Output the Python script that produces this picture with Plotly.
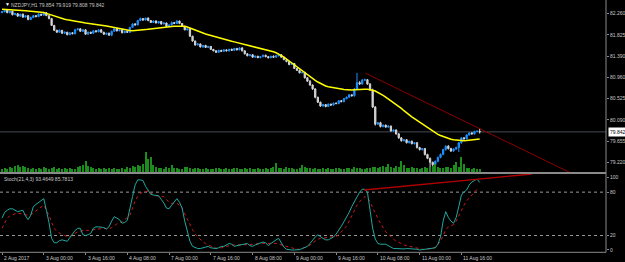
import plotly.graph_objects as go

# ---------------- data ----------------
symbol_title = "NZDJPY,H1 79.854 79.919 79.808 79.842"
stoch_title = "Stoch(21,4,3) 93.4649 85.7813"

first_open = 82.28
closes = [
    82.30, 82.33, 82.28, 82.31, 82.24, 82.26, 82.21, 82.25, 82.19, 82.22,
    82.14, 82.18, 82.22, 82.20, 82.25, 82.23, 82.28, 82.22, 82.16, 82.02,
    81.92, 81.88, 81.92, 81.86, 81.88, 81.83, 81.87, 81.85, 81.93, 81.95,
    81.90, 81.93, 81.84, 81.88, 81.86, 81.91, 81.89, 81.93, 81.88, 81.84,
    81.86, 81.82, 81.90, 81.95, 81.91, 81.93, 81.87, 81.90, 81.88, 81.98,
    82.05, 82.03, 82.12, 82.16, 82.13, 82.17, 82.12, 82.08, 82.11, 82.07,
    82.10, 82.05, 82.07, 82.00, 82.03, 82.08, 82.06, 82.11, 82.06, 82.00,
    81.93, 81.95, 81.80, 81.70, 81.62, 81.64, 81.58, 81.61, 81.57, 81.59,
    81.53, 81.50, 81.47, 81.51, 81.49, 81.52, 81.50, 81.53, 81.51, 81.55,
    81.52, 81.56, 81.50, 81.44, 81.40, 81.42, 81.37, 81.39, 81.36, 81.38,
    81.41, 81.38, 81.36, 81.39, 81.37, 81.40, 81.42, 81.37, 81.32, 81.28,
    81.22, 81.24, 81.14, 81.10, 81.05, 81.06, 80.95, 80.88, 80.80, 80.72,
    80.55, 80.45, 80.37, 80.40, 80.36, 80.41, 80.39, 80.43, 80.42, 80.48,
    80.46, 80.52, 80.55, 80.60, 80.58, 80.72, 80.85, 80.82, 80.90, 80.91,
    80.82, 80.70, 80.35, 80.00, 80.03, 79.95, 79.98, 79.94, 79.96, 79.86,
    79.88, 79.80, 79.72, 79.66, 79.68, 79.62, 79.65, 79.60, 79.62, 79.52,
    79.48, 79.50, 79.38, 79.30, 79.22, 79.17, 79.24, 79.32, 79.38, 79.48,
    79.55, 79.50, 79.45, 79.49, 79.52, 79.62, 79.72, 79.70, 79.78, 79.82,
    79.80, 79.85, 79.854, 79.842,
]
# wick lengths above / below the body, in thousandths of a yen
up_wick = [
    15, 10, 20, 8, 12, 18, 10, 6, 14, 9, 12, 20, 8, 10, 16, 7, 12, 10, 8, 14,
    10, 12, 18, 8, 15, 10, 6, 12, 20, 9, 14, 8, 10, 16, 12, 7, 11, 9, 18, 10,
    8, 14, 12, 10, 20, 9, 12, 8, 15, 10, 14, 18, 12, 20, 10, 8, 15, 12, 10, 14,
    9, 12, 16, 8, 10, 20, 12, 15, 10, 8, 12, 10, 14, 8, 12, 16, 10, 9, 14, 12,
    10, 8, 15, 12, 10, 14, 9, 12, 16, 10, 8, 12, 14, 10, 9, 16, 12, 10, 8, 14,
    12, 10, 15, 8, 14, 20, 10, 12, 9, 14, 10, 16, 12, 8, 18, 15, 10, 12, 20, 14,
    18, 12, 10, 16, 12, 14, 10, 12, 15, 10, 12, 14, 16, 10, 12, 20, 200, 30, 25, 20,
    15, 20, 25, 20, 15, 18, 12, 10, 15, 12, 10, 14, 18, 12, 10, 15, 12, 14, 10, 12,
    15, 12, 10, 14, 16, 12, 18, 15, 20, 18, 14, 22, 15, 18, 20, 16, 15, 14, 18, 16,
    14, 16, 18, 65,
]
dn_wick = [
    10, 14, 8, 12, 16, 10, 12, 9, 15, 10, 14, 8, 12, 10, 9, 14, 12, 10, 16, 12,
    15, 10, 12, 14, 9, 12, 10, 8, 14, 10, 12, 16, 10, 9, 12, 14, 10, 12, 8, 15,
    16, 10, 12, 9, 14, 10, 12, 8, 10, 14, 9, 12, 10, 12, 15, 10, 14, 9, 12, 10,
    12, 14, 10, 12, 16, 9, 12, 10, 14, 12, 10, 15, 18, 12, 14, 10, 12, 16, 10, 12,
    14, 10, 12, 9, 15, 10, 12, 14, 10, 9, 12, 10, 14, 16, 12, 10, 14, 12, 9, 12,
    10, 12, 14, 10, 9, 12, 15, 10, 12, 14, 16, 10, 12, 14, 10, 12, 18, 15, 14, 20,
    22, 18, 15, 12, 14, 10, 12, 14, 10, 12, 10, 12, 14, 10, 12, 16, 15, 18, 12, 14,
    16, 14, 20, 30, 20, 18, 15, 14, 16, 12, 14, 15, 20, 18, 14, 16, 15, 14, 16, 18,
    20, 18, 22, 16, 120, 70, 25, 20, 18, 16, 22, 18, 20, 16, 18, 90, 20, 16, 14, 15,
    12, 14, 15, 34,
]
volume = [
    300, 400, 350, 500, 450, 600, 700, 550, 650, 500, 400, 350, 450, 300, 400, 350, 500, 450, 300, 400,
    500, 350, 400, 300, 450, 350, 400, 300, 350, 500, 650, 700, 1100, 600, 500, 400, 350, 450, 300, 400,
    350, 400, 300, 450, 350, 300, 400, 350, 500, 450, 600, 550, 700, 650, 800, 2000, 1350, 1500, 700, 500,
    450, 400, 350, 500, 400, 700, 450, 400, 350, 300, 550, 500, 400, 350, 450, 400, 300, 350, 400, 300,
    350, 300, 400, 450, 350, 300, 400, 350, 300, 450, 400, 350, 300, 400, 350, 450, 300, 350, 400, 300,
    350, 400, 300, 450, 500, 900, 450, 400, 350, 500, 450, 400, 350, 300, 400, 700, 500, 450, 400, 350,
    400, 350, 300, 450, 350, 400, 300, 350, 450, 400, 350, 300, 400, 450, 350, 500, 450, 400, 350, 300,
    400, 450, 500, 550, 450, 500, 600, 550, 800, 500, 450, 600, 550, 1100, 700, 450, 400, 500, 450, 400,
    350, 450, 500, 400, 550, 600, 800, 500, 450, 400, 500, 550, 450, 700, 1000, 500, 1500, 800, 450, 400,
    350, 400, 300, 350,
]
moving_avg = [
    82.350, 82.348, 82.346, 82.342, 82.339, 82.335, 82.331, 82.327, 82.323, 82.319,
    82.315, 82.311, 82.307, 82.303, 82.299, 82.294, 82.282, 82.266, 82.247, 82.227,
    82.209, 82.192, 82.176, 82.161, 82.147, 82.135, 82.123, 82.112, 82.102, 82.092,
    82.084, 82.078, 82.069, 82.063, 82.055, 82.049, 82.041, 82.033, 82.024, 82.016,
    82.008, 81.998, 81.988, 81.975, 81.961, 81.947, 81.936, 81.928, 81.920, 81.914,
    81.912, 81.914, 81.918, 81.922, 81.926, 81.934, 81.941, 81.949, 81.955, 81.961,
    81.967, 81.975, 81.981, 81.988, 81.994, 81.998, 82.002, 82.006, 82.008, 82.008,
    82.004, 81.988, 81.967, 81.943, 81.916, 81.891, 81.875, 81.861, 81.844, 81.828,
    81.812, 81.795, 81.779, 81.763, 81.746, 81.732, 81.720, 81.707, 81.695, 81.683,
    81.670, 81.658, 81.646, 81.634, 81.619, 81.607, 81.593, 81.580, 81.568, 81.556,
    81.544, 81.531, 81.517, 81.501, 81.480, 81.460, 81.435, 81.404, 81.370, 81.333,
    81.292, 81.257, 81.220, 81.183, 81.145, 81.100, 81.055, 81.012, 80.971, 80.934,
    80.897, 80.862, 80.830, 80.801, 80.780, 80.764, 80.752, 80.744, 80.735, 80.727,
    80.719, 80.711, 80.705, 80.699, 80.699, 80.703, 80.709, 80.713, 80.715, 80.715,
    80.713, 80.707, 80.695, 80.678, 80.652, 80.621, 80.588, 80.555, 80.519, 80.482,
    80.445, 80.408, 80.371, 80.322, 80.275, 80.228, 80.189, 80.150, 80.113, 80.077,
    80.040, 80.003, 79.966, 79.929, 79.892, 79.856, 79.819, 79.792, 79.768, 79.745,
    79.725, 79.706, 79.692, 79.680, 79.672, 79.665, 79.661, 79.661, 79.665, 79.669,
    79.676, 79.682, 79.688, 79.696,
]
stoch_k = [
    44, 52, 55, 57, 57, 55, 53, 54, 55, 47,
    42, 48, 60, 63, 66, 69, 71, 55, 38, 16,
    10, 10, 13, 14, 13, 12, 17, 22, 27, 30,
    30, 21, 20, 21, 23, 30, 32, 32, 32, 31,
    29, 32, 40, 46, 44, 42, 37, 38, 41, 60,
    74, 90, 97, 97, 96, 88, 82, 77, 76, 76,
    75, 70, 65, 58, 57, 62, 67, 71, 66, 58,
    40, 25, 12, 5, 3, 2, 2, 3, 4, 5,
    3, 2, 2, 3, 5, 5, 7, 9, 8, 5,
    6, 7, 8, 9, 9, 6, 5, 7, 8, 9,
    11, 10, 6, 9, 12, 14, 16, 10, 4, 1,
    0, 0, 0, 0, 0.5, 2, 3, 5, 9, 14,
    18, 21, 18, 16, 14, 14, 16, 18, 22, 27,
    33, 39, 45, 52, 60, 67, 74, 80, 84, 84,
    80, 58, 30, 15, 9, 8, 8, 8, 6, 4,
    2, 2, 1.5, 1.5, 1.4, 2, 2, 2, 2, 1,
    0, 0.5, 1, 1, 2, 2.5, 3, 8, 18, 40,
    53, 45, 40, 37, 45, 60, 76, 80, 83, 90,
    94, 96, 98, 93.4649,
]
stoch_d = [
    30, 38, 44, 47, 49, 50, 51, 50, 49, 48,
    48, 49, 51, 54, 57, 60, 62, 55, 48, 38,
    30, 26, 23, 21, 20, 18.5, 19, 21, 24, 25,
    26, 27, 27.5, 27, 27.5, 28, 29, 30, 30, 30,
    29.5, 29, 31, 34, 36, 38, 39, 42, 45, 48,
    58, 68, 74, 78, 80, 81, 81.5, 79, 76, 75,
    74.5, 74, 73.7, 70, 66, 64.6, 64.6, 64.6, 62, 57.7,
    50, 42, 35, 28, 22, 18.4, 14, 11, 9.2, 7,
    5, 3.5, 2.3, 2.3, 3, 4, 5, 6, 6.9, 6.9,
    6.9, 6.9, 6.9, 6.9, 6.9, 7.5, 8, 8.5, 9, 9.2,
    9.2, 9.2, 9.2, 9.2, 9.2, 9.2, 8, 7, 6, 4.6,
    3, 2, 1.5, 1, 1, 2, 3, 4.6, 7, 10,
    13, 15, 16, 16.5, 17, 17, 17.5, 18, 19, 21,
    25, 28, 33, 40, 48, 56, 62, 67, 71, 73.7,
    72, 67, 58, 50, 44, 37, 31, 25, 22, 18,
    15, 12, 11, 9, 7, 6, 5, 4.6, 4, 3,
    2, 1, 0.8, 1, 1.5, 2.3, 4, 8, 12, 20,
    28, 32, 34, 35, 40, 48, 55, 62, 68, 72,
    76, 80, 84, 85.7813,
]

label_bars = [0, 16, 32, 48, 64, 80, 96, 112, 128, 144, 160, 176]
label_text = ["2 Aug 2017", "3 Aug 00:00", "3 Aug 16:00", "4 Aug 08:00",
              "7 Aug 00:00", "7 Aug 16:00", "8 Aug 08:00", "9 Aug 00:00",
              "9 Aug 16:00", "10 Aug 08:00", "11 Aug 00:00", "11 Aug 16:00"]
price_ticks = [79.220, 79.655, 80.090, 80.525, 80.960, 81.390, 81.825, 82.260]
stoch_ticks = [0, 20, 80, 100]
stoch_levels = [20, 80]
last_price = 79.842
trend_price_bars = [139.1, 217.2]
trend_price_vals = [81.046, 79.021]
trend_stoch_bars = [138.7, 203.0]
trend_stoch_vals = [83.0, 105.1]

# ---------------- build ----------------
n = min(len(closes), len(up_wick), len(dn_wick), len(volume),
        len(moving_avg), len(stoch_k), len(stoch_d))
closes = closes[:n]
bars = list(range(n))
opens = [first_open] + closes[:-1]
highs = [max(o, c) + u / 1000 for o, c, u in zip(opens, closes, up_wick)]
lows = [min(o, c) - d / 1000 for o, c, d in zip(opens, closes, dn_wick)]

W, H = 625, 262
XR = 606 / W                       # right edge of plotting area
MAIN = [(H - 172) / H, 1.0]
STO = [(H - 252.3) / H, (H - 174) / H]
FONT = "Liberation Sans"
TXT = "#c8c8c8"
GRAY = "#8a8a8a"

fig = go.Figure()
fig.add_trace(go.Bar(x=bars, y=volume[:n], yaxis="y3", marker_color="#1c8c1c",
                     marker_line_width=0, width=0.4, hoverinfo="skip"))
fig.add_trace(go.Candlestick(
    x=bars, open=opens, high=highs, low=lows, close=closes,
    increasing=dict(line=dict(color="#1e90ff", width=1), fillcolor="#1e90ff"),
    decreasing=dict(line=dict(color="#d4d4d4", width=1), fillcolor="#d4d4d4"),
    whiskerwidth=0, hoverinfo="skip"))
fig.add_trace(go.Scatter(x=bars, y=moving_avg[:n], mode="lines",
                         line=dict(color="#ffff00", width=1.5), hoverinfo="skip"))
fig.add_trace(go.Scatter(x=trend_price_bars, y=trend_price_vals, mode="lines",
                         line=dict(color="#8b0000", width=1), hoverinfo="skip"))
fig.add_trace(go.Scatter(x=bars, y=stoch_d[:n], yaxis="y2", mode="lines",
                         line=dict(color="#d01818", width=1, dash="dot"), hoverinfo="skip"))
fig.add_trace(go.Scatter(x=bars, y=stoch_k[:n], yaxis="y2", mode="lines",
                         line=dict(color="#20a8a0", width=1), hoverinfo="skip"))
fig.add_trace(go.Scatter(x=trend_stoch_bars, y=trend_stoch_vals, yaxis="y2", mode="lines",
                         line=dict(color="#b00000", width=1.3), hoverinfo="skip"))

shapes = [
    dict(type="line", xref="paper", yref="y", x0=0, x1=XR, y0=last_price, y1=last_price,
         line=dict(color="#454b52", width=1), layer="below"),
    dict(type="rect", xref="paper", yref="paper", x0=0, x1=XR, y0=STO[1], y1=MAIN[0],
         fillcolor=GRAY, line=dict(width=0)),
    dict(type="line", xref="paper", yref="paper", x0=XR, x1=XR, y0=STO[0], y1=1,
         line=dict(color=GRAY, width=1)),
    dict(type="line", xref="paper", yref="paper", x0=0, x1=XR, y0=STO[0], y1=STO[0],
         line=dict(color=GRAY, width=1)),
]
for lv in stoch_levels:
    shapes.append(dict(type="line", xref="paper", yref="y2", x0=0, x1=XR, y0=lv, y1=lv,
                       line=dict(color="#9a9a9a", width=1, dash="dot"), layer="below"))

ann = [
    dict(text="▼", x=0.004, y=(H - 4) / H, xref="paper", yref="paper", xanchor="left",
         yanchor="middle", showarrow=False, font=dict(size=5, color="#ffffff", family=FONT)),
    dict(text=symbol_title, x=9 / W, y=(H - 4.5) / H, xref="paper", yref="paper",
         xanchor="left", yanchor="middle", showarrow=False,
         font=dict(size=5, color=TXT, family=FONT)),
    dict(text=stoch_title, x=2 / W, y=(H - 178.5) / H, xref="paper", yref="paper",
         xanchor="left", yanchor="middle", showarrow=False,
         font=dict(size=5, color=TXT, family=FONT)),
    dict(text=f"{last_price:.3f}", x=XR + 1.5 / W, y=last_price, xref="paper", yref="y",
         xanchor="left", yanchor="middle", showarrow=False, bgcolor="#ffffff",
         borderpad=1, font=dict(size=5, color="#000000", family=FONT)),
]
for b, t in zip(label_bars, label_text):
    ann.append(dict(text=t, x=b, y=(H - 257.5) / H, xref="x", yref="paper",
                    xanchor="left", yanchor="middle", showarrow=False,
                    font=dict(size=5, color=TXT, family=FONT)))

fig.update_layout(
    width=W, height=H, margin=dict(l=0, r=0, t=0, b=0),
    paper_bgcolor="#000000", plot_bgcolor="#000000", showlegend=False,
    shapes=shapes, annotations=ann, bargap=0,
    xaxis=dict(domain=[0, XR], range=[-0.77, 231.4], anchor="y2",
               showgrid=False, zeroline=False, showticklabels=False,
               ticks="outside", tickvals=label_bars, ticklen=2, tickcolor=GRAY,
               rangeslider=dict(visible=False), fixedrange=True),
    yaxis=dict(domain=MAIN, range=[79.021, 82.540], side="right", anchor="x",
               showgrid=False, zeroline=False, tickvals=price_ticks,
               ticktext=[f"{v:.3f}" for v in price_ticks], ticks="outside",
               ticklen=2, tickcolor=GRAY, tickfont=dict(size=5, color=TXT, family=FONT)),
    yaxis3=dict(overlaying="y", range=[0, 17200], visible=False),
    yaxis2=dict(domain=STO, range=[-3.2, 105.1], side="right", anchor="x",
                showgrid=False, zeroline=False, tickvals=stoch_ticks,
                ticktext=[str(v) for v in stoch_ticks], ticks="outside",
                ticklen=2, tickcolor=GRAY, tickfont=dict(size=5, color=TXT, family=FONT)),
)

fig.write_html("out.html")
